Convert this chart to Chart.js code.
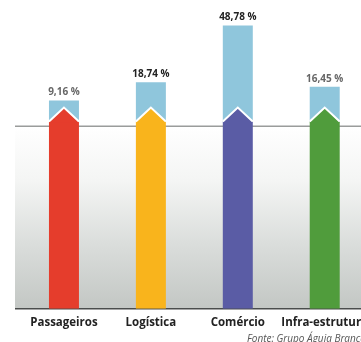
<!DOCTYPE html>
<html><head><meta charset="utf-8">
<script src="https://cdn.jsdelivr.net/npm/chart.js@4"></script>
<style>
html,body{margin:0;padding:0;overflow:hidden;background:#fff;width:361px;height:342px}
canvas{display:block}
</style></head>
<body>
<canvas id="c" width="376" height="342"></canvas>
<script>
const categories = ['Passageiros', 'Logística', 'Comércio', 'Infra-estrutura'];
const shares = [9.16, 18.74, 48.78, 16.45];
const shareLabels = ['9,16 %', '18,74 %', '48,78 %', '16,45 %'];
const arrowColors = ['#e53d2c', '#f9b41c', '#5a5ca5', '#509c3c'];
const labelColors = ['#666', '#222', '#222', '#666'];
const sourceText = 'Fonte: Grupo Águia Branca';

const Y_MIN = -101, Y_MAX = 57, REF_LINE = -4.5, ARROW_BASE = -2;

const blueData = shares.map(v => [ARROW_BASE, v]);
const arrowData = shares.map(() => [Y_MIN, ARROW_BASE]);

const deco = {
  id: 'deco',
  beforeDatasetsDraw(chart) {
    const {ctx, chartArea, scales: {y}} = chart;
    const yl = y.getPixelForValue(REF_LINE);
    const x0 = chartArea.left - 5.5;
    const x1 = chart.width;
    ctx.save();
    const g = ctx.createLinearGradient(0, yl, 0, chartArea.bottom);
    g.addColorStop(0, '#ffffff');
    g.addColorStop(0.3, '#f4f5f4');
    g.addColorStop(0.65, '#dadddb');
    g.addColorStop(1, '#c3c7c4');
    ctx.fillStyle = g;
    ctx.fillRect(x0, yl, x1 - x0, chartArea.bottom - yl);
    ctx.strokeStyle = '#9a9c9b';
    ctx.lineWidth = 1.5;
    ctx.beginPath(); ctx.moveTo(x0, yl); ctx.lineTo(x1, yl); ctx.stroke();
    ctx.strokeStyle = '#4a4d4c';
    ctx.lineWidth = 1.5;
    ctx.beginPath(); ctx.moveTo(x0, chartArea.bottom); ctx.lineTo(x1, chartArea.bottom); ctx.stroke();
    ctx.restore();
  },
  afterDatasetsDraw(chart) {
    const {ctx} = chart;
    const arrows = chart.getDatasetMeta(1).data;
    const blues = chart.getDatasetMeta(0).data;
    ctx.save();
    arrows.forEach((el, i) => {
      const w = el.width, x = el.x, top = Math.min(el.y, el.base);
      const tip = 14;
      ctx.beginPath();
      ctx.moveTo(x - w / 2, top + 1);
      ctx.lineTo(x, top - tip);
      ctx.lineTo(x + w / 2, top + 1);
      ctx.closePath();
      ctx.fillStyle = arrowColors[i];
      ctx.fill();
      ctx.beginPath();
      ctx.moveTo(x - w / 2, top);
      ctx.lineTo(x, top - tip);
      ctx.lineTo(x + w / 2, top);
      ctx.strokeStyle = '#ffffff';
      ctx.lineWidth = 2;
      ctx.stroke();
    });
    ctx.font = 'bold 10px "Open Sans", sans-serif';
    ctx.textAlign = 'center';
    ctx.textBaseline = 'middle';
    blues.forEach((el, i) => {
      ctx.fillStyle = labelColors[i];
      ctx.fillText(shareLabels[i], el.x, Math.min(el.y, el.base) - 8);
    });
    ctx.font = 'italic 10px "Open Sans", sans-serif';
    ctx.textAlign = 'left';
    ctx.fillStyle = '#555';
    ctx.fillText(sourceText, 247, 339);
    ctx.restore();
  }
};

new Chart(document.getElementById('c'), {
  type: 'bar',
  data: {
    labels: categories,
    datasets: [
      { data: blueData, backgroundColor: '#8fc6dc', borderWidth: 0 },
      { data: arrowData, backgroundColor: arrowColors, borderWidth: 0 }
    ]
  },
  options: {
    responsive: false,
    animation: false,
    events: [],
    layout: { padding: { left: 20.5, right: 7.5, top: 10, bottom: 5.5 } },
    plugins: { legend: { display: false }, tooltip: { enabled: false } },
    datasets: { bar: { grouped: false, barPercentage: 0.345, categoryPercentage: 1 } },
    scales: {
      x: {
        grid: { display: false, drawTicks: false },
        border: { display: false },
        ticks: { color: '#222', font: { family: '"Open Sans", sans-serif', weight: 'bold', size: 11.5 }, padding: 7, maxRotation: 0, autoSkip: false }
      },
      y: { display: false, min: Y_MIN, max: Y_MAX }
    }
  },
  plugins: [deco]
});
</script>
</body></html>
